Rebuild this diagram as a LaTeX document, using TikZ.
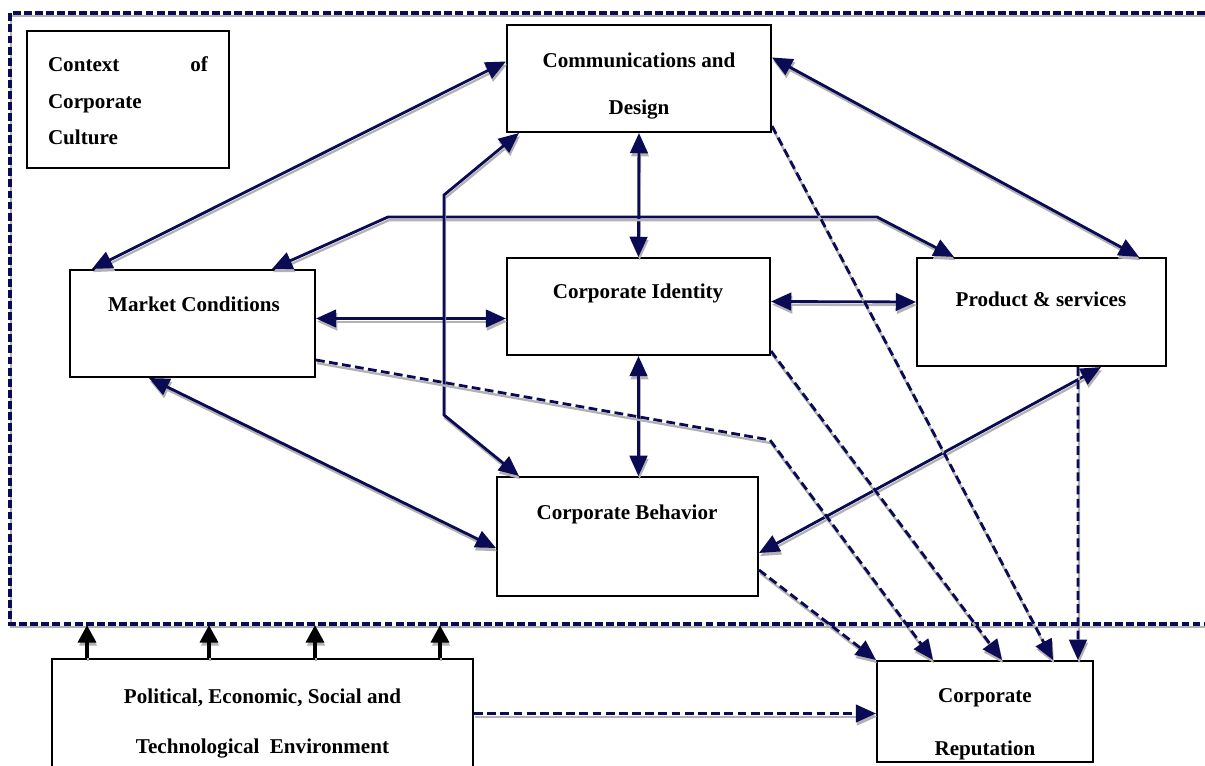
\documentclass[tikz,border=0pt]{standalone}
\usepackage{fontspec}
\setmainfont{Liberation Serif}
\usetikzlibrary{arrows.meta,calc}
\definecolor{darknavy}{RGB}{10,10,85}

\tikzset{
  box/.style={draw, line width=1.2pt, rectangle, inner sep=0pt},
  lbl/.style={font=\bfseries\fontsize{12}{14}\selectfont, align=center, inner sep=0pt},
  ghost/.style={preaction={draw=gray!60, line width=1.3pt, transform canvas={xshift=0.6pt,yshift=-1.8pt}}},
  link/.style={draw=darknavy, line width=1.6pt, ghost, <->},
  infl/.style={draw=darknavy, line width=1.6pt, ghost, dash pattern=on 5pt off 2.5pt, ->},
  boundary/.style={draw=darknavy, line width=1.8pt, ghost, dash pattern=on 4.5pt off 1.8pt},
  uparrow/.style={draw=black, line width=2.6pt, ghost, -{Triangle[length=10pt,width=10pt]}}
}

\begin{document}
\begin{tikzpicture}[x=0.02cm, y=-0.02cm, >={Triangle[length=11.5pt,width=10pt]}]
  \useasboundingbox (0,0) rectangle (1205,766);

  % context frame
  \draw[boundary] (1205,13) -- (10,13) -- (10,624) -- (1205,624);

  % boxes
  \node[box, minimum width=4.04cm, minimum height=2.74cm] (context) at (128,99.5) {};
  \node[box, minimum width=5.28cm, minimum height=2.14cm] (comms) at (639,78.5) {};
  \node[box, minimum width=4.9cm, minimum height=2.14cm] (market) at (192.5,323.5) {};
  \node[box, minimum width=5.26cm, minimum height=1.94cm] (identity) at (638.5,306.5) {};
  \node[box, minimum width=4.98cm, minimum height=2.16cm] (product) at (1041.5,312) {};
  \node[box, minimum width=5.22cm, minimum height=2.38cm] (behavior) at (627.5,536.5) {};
  \node[box, minimum width=8.42cm, minimum height=2.18cm] (environ) at (262.5,713.5) {};
  \node[box, minimum width=4.32cm, minimum height=2.02cm] (reputation) at (985,711.5) {};

  % texts
  \node[lbl, align=left] (contextTxt) at (128,101) {\makebox[3.2cm]{Context\hfill of}\\[6.7pt]Corporate\\[6.7pt]Culture};
  \node[lbl] (commsTxt) at (639,86) {Communications and\\[13.2pt]Design};
  \node[lbl, anchor=base] (marketTxt) at (194,312) {Market Conditions};
  \node[lbl, anchor=base] (identityTxt) at (638,299) {Corporate Identity};
  \node[lbl, anchor=base] (productTxt) at (1041,307) {Product \& services};
  \node[lbl, anchor=base] (behaviorTxt) at (627,520) {Corporate Behavior};
  \node[lbl] (environTxt) at (262.5,723.5) {Political, Economic, Social and\\[15pt]Technological\ \ Environment};
  \node[lbl] (reputationTxt) at (985,724) {Corporate\\[16pt]Reputation};

  % two-way links
  \draw[link] ($(market.north west)+(23,0)$) -- ($(comms.west)+(0,-17)$);
  \draw[link] ($(comms.east)+(0,-21)$) -- ($(product.north east)+(-28,0)$);
  \draw[link] (comms.south) -- (identity.north);
  \draw[link] ($(market.north west)+(203,0)$) -- (388,217) -- (877,217) -- ($(product.north west)+(38,0)$);
  \draw[link] ($(market.east)+(0,-5)$) -- ($(identity.west)+(0,12)$);
  \draw[link] ($(identity.east)+(0,-5)$) -- ($(product.west)+(0,-10)$);
  \draw[link] (identity.south) -- (identity.south |- behavior.north);
  \draw[link] ($(market.south west)+(80,0)$) -- ($(behavior.west)+(0,11.5)$);
  \draw[link] ($(comms.south west)+(13,0)$) -- (444,195) -- (444,415) -- ($(behavior.north west)+(23,0)$);
  \draw[link] ($(product.south east)+(-66,0)$) -- ($(behavior.east)+(0,16.5)$);

  % influences on reputation
  \draw[infl] ($(behavior.east)+(0,33.5)$) -- (reputation.north west);
  \draw[infl] ($(market.east)+(0,36.5)$) -- (770,440) -- ($(reputation.north west)+(57,0)$);
  \draw[infl] ($(identity.south east)+(0,-5)$) -- ($(reputation.north)+(17,0)$);
  \draw[infl] ($(comms.south east)+(0,-7)$) -- ($(reputation.north)+(68,0)$);
  \draw[infl] ($(product.south)+(36.5,0)$) -- ($(reputation.north)+(93,0)$);
  \draw[infl] (environ.east) -- (environ.east -| reputation.west);

  % environment pushing on the context
  \foreach \dx in {36,158,264,389}
    \draw[uparrow] ($(environ.north west)+(\dx,0)$) -- ++(0,-33);
\end{tikzpicture}
\end{document}
